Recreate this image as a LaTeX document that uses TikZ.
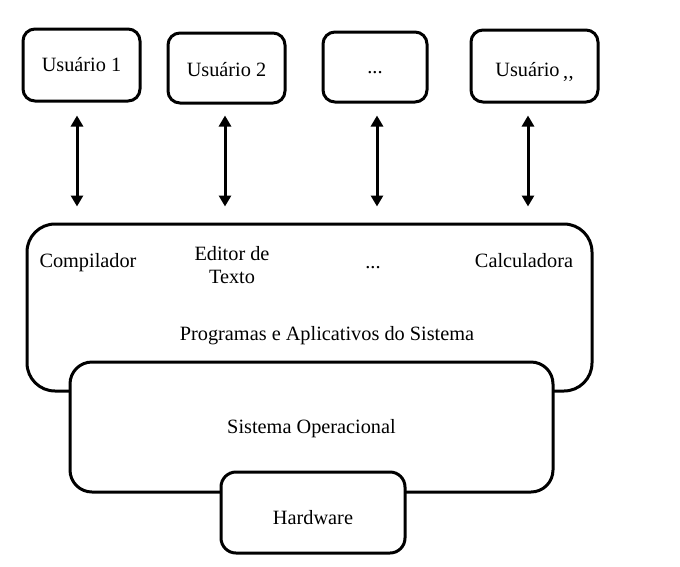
\documentclass[tikz,border=0pt]{standalone}
\usepackage{fontspec}
\setmainfont{Liberation Serif}
\usetikzlibrary{arrows.meta}
\begin{document}
\begin{tikzpicture}[x=1pt,y=-1pt,
  box/.style={draw=black,line width=3pt,fill=white,inner sep=0pt,
    text height=13.5pt,text depth=0pt,
    font=\fontsize{20.3}{23.5}\selectfont},
  lbl/.style={inner sep=0pt,font=\fontsize{20.3}{23.5}\selectfont},
  biarrow/.style={line width=3pt,
    {Triangle[length=11pt,width=12pt]}-{Triangle[length=11pt,width=12pt]}}
]
\useasboundingbox (0,0) rectangle (680,566);
% top boxes
\node[box,rounded corners=12pt,minimum width=117pt,minimum height=72pt] (u1) at (81.5,65) {Usuário 1};
\node[box,rounded corners=12pt,minimum width=117pt,minimum height=70pt,text height=16pt] (u2) at (226.5,68) {Usuário 2};
\node[box,rounded corners=12pt,minimum width=104pt,minimum height=70pt,text height=13pt] (u3) at (375,67) {...};
\node[box,rounded corners=12pt,minimum width=127pt,minimum height=72pt,text height=21pt] (u4) at (534.5,66) {Usuário\,\raisebox{-2pt}{,{}\kern0.5pt,}};
% layers
\node[box,rounded corners=28pt,minimum width=565pt,minimum height=167pt] (big) at (309.5,307.5) {};
\node[box,rounded corners=22pt,minimum width=483pt,minimum height=130pt] (so) at (311.5,427) {Sistema Operacional};
\node[box,rounded corners=15pt,minimum width=184pt,minimum height=81pt,text height=23pt] (hw) at (313,512.5) {Hardware};
% labels inside big box
\node[lbl,anchor=base] (comp) at (88,267) {Compilador};
\node[lbl,align=center] (edit) at (232,265) {Editor de\\Texto};
\node[lbl,anchor=base] (dots) at (373,268) {...};
\node[lbl,anchor=base] (calc) at (524,267) {Calculadora};
\node[lbl,anchor=base] (prog) at (327,340) {Programas e Aplicativos do Sistema};
% arrows
\draw[biarrow] ([xshift=-4.5pt,yshift=-13pt]u1.south) -- ([xshift=-4.5pt,yshift=16pt]u1.south |- big.north);
\draw[biarrow] ([xshift=-1.5pt,yshift=-11pt]u2.south) -- ([xshift=-1.5pt,yshift=16pt]u2.south |- big.north);
\draw[biarrow] ([xshift=2pt,yshift=-12pt]u3.south) -- ([xshift=2pt,yshift=16pt]u3.south |- big.north);
\draw[biarrow] ([xshift=-6.5pt,yshift=-12pt]u4.south) -- ([xshift=-6.5pt,yshift=16pt]u4.south |- big.north);
\end{tikzpicture}
\end{document}
